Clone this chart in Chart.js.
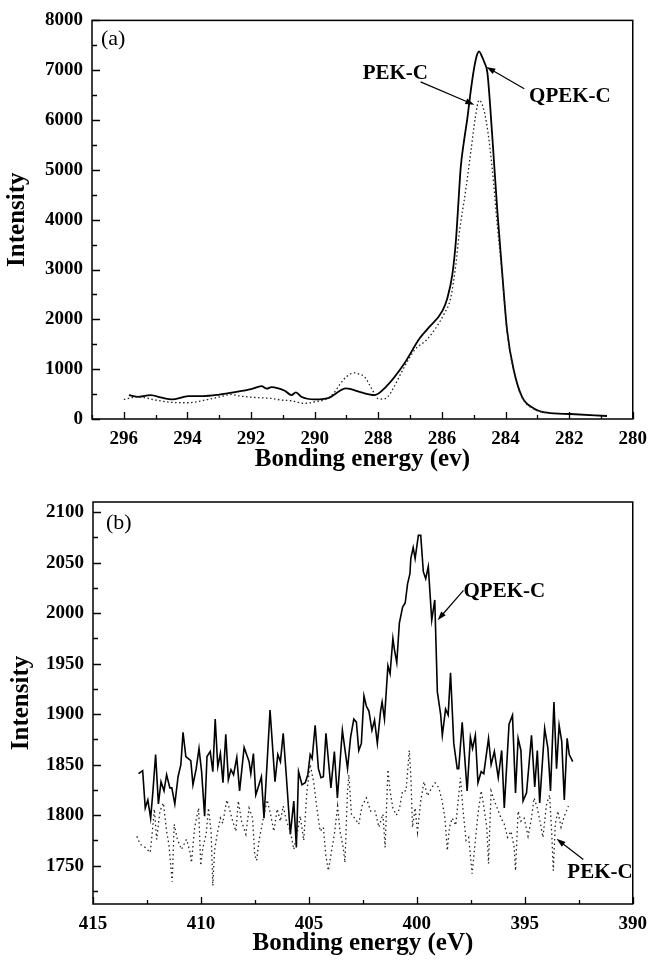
<!DOCTYPE html>
<html>
<head>
<meta charset="utf-8">
<script src="https://cdn.jsdelivr.net/npm/chart.js@4.4.0/dist/chart.umd.min.js"></script>
<style>
  html, body { margin: 0; padding: 0; background: #fff; }
  #wrap { position: relative; width: 656px; height: 962px; }
  canvas { position: absolute; left: 0; }
  #chartA { top: 0; }
  #chartB { top: 480px; }
</style>
</head>
<body>
<div id="wrap">
  <canvas id="chartA" width="656" height="480"></canvas>
  <canvas id="chartB" width="656" height="482"></canvas>
</div>
<script>
// (a) C1s 스펙트럼
const aEnergyQPEK = [295.84, 295.53, 295.16, 294.8, 294.49, 293.97, 293.5, 293.0, 292.5, 292.0, 291.67, 291.5, 291.36, 290.94, 290.73, 290.59, 290.42, 290.0, 289.58, 289.01, 288.54, 288.12, 287.76, 287.18, 286.71, 286.45, 285.98, 285.82, 285.67, 285.56, 285.48, 285.41, 285.3, 285.2, 285.1, 284.99, 284.9, 284.83, 284.75, 284.66, 284.57, 284.42, 284.26, 284.1, 283.95, 283.74, 283.48, 283.11, 282.69, 281.96, 280.81];
const aQPEK = [480, 446, 480, 427, 393, 459, 460, 490, 540, 600, 659, 610, 640, 567, 480, 533, 446, 393, 420, 613, 533, 480, 646, 1115, 1610, 1810, 2176, 2445, 2910, 3573, 4350, 5036, 5600, 6034, 6550, 7032, 7300, 7380, 7290, 7150, 6950, 5709, 4200, 2900, 1776, 978, 445, 213, 126, 100, 60];
const aEnergyPEK = [296.0, 295.53, 295.0, 294.49, 294.0, 293.44, 292.97, 292.61, 292.4, 291.77, 291.36, 291.04, 290.73, 290.31, 290.0, 289.63, 289.4, 289.2, 289.0, 288.75, 288.6, 288.43, 288.2, 288.02, 287.85, 287.7, 287.5, 287.29, 286.87, 286.45, 285.93, 285.72, 285.56, 285.46, 285.25, 285.09, 284.95, 284.83, 284.7, 284.57, 284.42, 284.26, 284.1, 283.95, 283.74, 283.48, 283.11, 282.7];
const aPEK = [393, 446, 380, 333, 326, 380, 446, 493, 466, 427, 413, 380, 366, 313, 346, 400, 520, 700, 850, 925, 900, 846, 600, 413, 400, 446, 650, 912, 1377, 1610, 2110, 2441, 3107, 3700, 4600, 5369, 6050, 6400, 6250, 5834, 5036, 3900, 2850, 1750, 960, 430, 200, 120];
const aXLabels = [280, 282, 284, 286, 288, 290, 292, 294, 296];
const aYLabels = [0, 1000, 2000, 3000, 4000, 5000, 6000, 7000, 8000];

// (b) N1s 스펙트럼
const bEnergyQPEK = [412.89, 412.7, 412.58, 412.46, 412.33, 412.23, 412.1, 411.97, 411.85, 411.71, 411.59, 411.44, 411.35, 411.21, 411.06, 410.93, 410.83, 410.7, 410.47, 410.37, 410.22, 410.09, 409.97, 409.83, 409.72, 409.57, 409.45, 409.34, 409.22, 409.1, 408.98, 408.85, 408.73, 408.61, 408.49, 408.34, 408.21, 408.0, 407.77, 407.69, 407.57, 407.46, 407.34, 407.2, 407.08, 406.8, 406.57, 406.44, 406.32, 406.19, 406.04, 405.86, 405.7, 405.58, 405.48, 405.32, 405.17, 405.05, 404.94, 404.85, 404.71, 404.56, 404.44, 404.33, 404.21, 403.98, 403.82, 403.68, 403.45, 403.21, 403.07, 402.92, 402.8, 402.69, 402.57, 402.45, 402.34, 402.22, 402.08, 401.96, 401.83, 401.68, 401.61, 401.5, 401.34, 401.24, 401.11, 401.04, 400.93, 400.81, 400.66, 400.54, 400.43, 400.32, 400.28, 400.17, 400.08, 399.93, 399.82, 399.7, 399.59, 399.47, 399.31, 399.17, 399.05, 398.9, 398.82, 398.67, 398.55, 398.44, 398.29, 398.13, 398.06, 397.9, 397.67, 397.52, 397.42, 397.29, 397.17, 397.02, 396.9, 396.68, 396.56, 396.41, 396.23, 396.07, 395.95, 395.73, 395.57, 395.43, 395.31, 395.18, 395.08, 394.92, 394.69, 394.54, 394.42, 394.31, 394.08, 393.93, 393.81, 393.65, 393.53, 393.41, 393.29, 393.17, 393.04, 392.94, 392.78];
const bQPEK = [1841, 1844, 1807, 1815, 1797, 1822, 1860, 1811, 1833, 1824, 1840, 1827, 1827, 1811, 1838, 1850, 1882, 1858, 1854, 1830, 1846, 1866, 1843, 1799, 1858, 1863, 1843, 1895, 1848, 1861, 1832, 1880, 1835, 1845, 1840, 1857, 1824, 1867, 1853, 1841, 1861, 1820, 1828, 1838, 1797, 1904, 1833, 1860, 1853, 1881, 1837, 1781, 1814, 1768, 1843, 1830, 1832, 1840, 1860, 1856, 1889, 1846, 1837, 1838, 1881, 1827, 1863, 1817, 1884, 1846, 1877, 1895, 1892, 1864, 1871, 1918, 1908, 1903, 1884, 1894, 1871, 1903, 1912, 1895, 1948, 1940, 1975, 1964, 1951, 1990, 2006, 2010, 2029, 2039, 2054, 2065, 2054, 2077, 2077, 2041, 2034, 2046, 1993, 2013, 1922, 1900, 1879, 1905, 1899, 1941, 1871, 1846, 1846, 1892, 1824, 1877, 1866, 1879, 1832, 1843, 1841, 1876, 1850, 1863, 1837, 1864, 1807, 1890, 1899, 1822, 1876, 1864, 1814, 1822, 1879, 1828, 1864, 1812, 1886, 1866, 1824, 1912, 1846, 1889, 1873, 1815, 1876, 1860, 1853];
const bEnergyPEK = [412.97, 412.81, 412.58, 412.35, 412.25, 412.16, 412.05, 411.9, 411.74, 411.59, 411.48, 411.39, 411.33, 411.24, 411.09, 410.9, 410.67, 410.52, 410.44, 410.29, 410.11, 410.01, 409.91, 409.76, 409.65, 409.53, 409.45, 409.37, 409.25, 409.1, 408.99, 408.8, 408.69, 408.53, 408.38, 408.27, 408.12, 407.92, 407.77, 407.61, 407.51, 407.42, 407.31, 407.11, 406.93, 406.78, 406.62, 406.47, 406.32, 406.19, 406.04, 405.86, 405.7, 405.55, 405.4, 405.24, 405.09, 404.94, 404.78, 404.63, 404.48, 404.33, 404.22, 404.1, 403.94, 403.82, 403.67, 403.56, 403.41, 403.33, 403.22, 403.15, 403.03, 402.88, 402.69, 402.54, 402.34, 402.14, 401.93, 401.76, 401.57, 401.47, 401.34, 401.24, 401.11, 400.95, 400.81, 400.66, 400.5, 400.35, 400.28, 400.2, 400.08, 399.97, 399.82, 399.67, 399.51, 399.31, 399.16, 398.98, 398.83, 398.7, 398.59, 398.49, 398.36, 398.2, 397.98, 397.87, 397.72, 397.6, 397.44, 397.32, 397.17, 397.02, 396.91, 396.76, 396.68, 396.56, 396.41, 396.26, 396.1, 395.95, 395.8, 395.64, 395.49, 395.43, 395.31, 395.18, 395.03, 394.85, 394.69, 394.57, 394.42, 394.27, 394.16, 394.0, 393.85, 393.75, 393.68, 393.59, 393.47, 393.32, 393.17, 392.98];
const bPEK = [1779, 1771, 1768, 1763, 1784, 1806, 1776, 1804, 1812, 1784, 1770, 1748, 1734, 1791, 1776, 1766, 1776, 1765, 1753, 1788, 1807, 1750, 1768, 1781, 1807, 1784, 1730, 1765, 1781, 1797, 1792, 1815, 1807, 1794, 1784, 1814, 1794, 1781, 1807, 1797, 1761, 1755, 1775, 1797, 1815, 1801, 1784, 1806, 1794, 1809, 1794, 1784, 1766, 1781, 1799, 1775, 1824, 1850, 1833, 1807, 1784, 1788, 1761, 1745, 1766, 1781, 1809, 1784, 1768, 1753, 1820, 1840, 1801, 1797, 1791, 1809, 1817, 1804, 1804, 1788, 1801, 1768, 1845, 1824, 1807, 1800, 1806, 1824, 1824, 1864, 1840, 1788, 1807, 1783, 1814, 1833, 1819, 1827, 1832, 1827, 1814, 1797, 1765, 1788, 1797, 1790, 1837, 1807, 1775, 1778, 1742, 1768, 1801, 1824, 1810, 1788, 1752, 1824, 1814, 1806, 1797, 1791, 1778, 1784, 1768, 1745, 1804, 1794, 1797, 1779, 1797, 1817, 1807, 1791, 1778, 1810, 1820, 1781, 1745, 1791, 1804, 1788, 1799, 1809];
const bXLabels = [390, 395, 400, 405, 410, 415];
const bYLabels = [1750, 1800, 1850, 1900, 1950, 2000, 2050, 2100];

const SERIF = "'Liberation Serif', 'Times New Roman', serif";

function pairs(xs, ys) {
  return xs.map((x, i) => ({ x: x, y: ys[i] }));
}

function onStep(v, step) {
  const r = Math.abs(v / step - Math.round(v / step));
  return r < 1e-6;
}

// 프레임 + 안쪽으로 향하는 눈금
const frameTicks = {
  id: 'frameTicks',
  afterDraw(chart, args, opts) {
    const ctx = chart.ctx;
    const a = chart.chartArea;
    const xs = chart.scales.x;
    const ys = chart.scales.y;
    ctx.save();
    ctx.strokeStyle = '#000';
    ctx.lineWidth = 1.5;
    ctx.strokeRect(a.left, a.top, a.right - a.left, a.bottom - a.top);
    ctx.lineWidth = 1.3;
    ctx.beginPath();
    xs.ticks.forEach(t => {
      if (!onStep(t.value, opts.xMinor)) return;
      const px = Math.round(xs.getPixelForValue(t.value)) + 0.5;
      const len = onStep(t.value, opts.xMajor) ? 7 : 4;
      ctx.moveTo(px, a.bottom);
      ctx.lineTo(px, a.bottom - len);
    });
    ys.ticks.forEach(t => {
      if (!onStep(t.value, opts.yMinor)) return;
      const py = Math.round(ys.getPixelForValue(t.value)) + 0.5;
      const len = onStep(t.value, opts.yMajor) ? 8 : 5;
      ctx.moveTo(a.left, py);
      ctx.lineTo(a.left + len, py);
    });
    ctx.stroke();
    ctx.restore();
  }
};

// 라벨과 화살표
const notes = {
  id: 'notes',
  afterDatasetsDraw(chart, args, opts) {
    const ctx = chart.ctx;
    const xs = chart.scales.x;
    const ys = chart.scales.y;
    ctx.save();
    ctx.fillStyle = '#000';
    ctx.strokeStyle = '#000';
    (opts.labels || []).forEach(l => {
      ctx.font = l.font;
      ctx.textAlign = 'left';
      ctx.textBaseline = 'middle';
      ctx.fillText(l.text, xs.getPixelForValue(l.x), ys.getPixelForValue(l.y));
    });
    (opts.arrows || []).forEach(ar => {
      const x1 = xs.getPixelForValue(ar.from[0]);
      const y1 = ys.getPixelForValue(ar.from[1]);
      const x2 = xs.getPixelForValue(ar.to[0]);
      const y2 = ys.getPixelForValue(ar.to[1]);
      const ang = Math.atan2(y2 - y1, x2 - x1);
      const hl = 9, hw = 3;
      ctx.lineWidth = 1.2;
      ctx.beginPath();
      ctx.moveTo(x1, y1);
      ctx.lineTo(x2 - Math.cos(ang) * hl * 0.8, y2 - Math.sin(ang) * hl * 0.8);
      ctx.stroke();
      ctx.beginPath();
      ctx.moveTo(x2, y2);
      ctx.lineTo(x2 - Math.cos(ang) * hl + Math.sin(ang) * hw, y2 - Math.sin(ang) * hl - Math.cos(ang) * hw);
      ctx.lineTo(x2 - Math.cos(ang) * hl - Math.sin(ang) * hw, y2 - Math.sin(ang) * hl + Math.cos(ang) * hw);
      ctx.closePath();
      ctx.fill();
    });
    ctx.restore();
  }
};

function buildOptions(cfg) {
  return {
    responsive: false,
    animation: false,
    layout: { padding: { left: 0, top: cfg.padTop, right: cfg.padRight, bottom: 0 } },
    plugins: {
      legend: { display: false },
      tooltip: { enabled: false },
      frameTicks: cfg.ticks,
      notes: cfg.notes
    },
    scales: {
      x: {
        type: 'linear',
        reverse: true,
        min: cfg.xMin,
        max: cfg.xMax,
        afterFit(scale) { scale.height = cfg.xHeight; },
        grid: { display: false, drawTicks: false },
        border: { display: false },
        ticks: {
          stepSize: cfg.ticks.xMinor,
          includeBounds: false,
          autoSkip: false,
          maxRotation: 0,
          padding: 9,
          color: '#000',
          font: { family: SERIF, size: 19, weight: 'bold' },
          callback: v => cfg.xLabels.includes(v) ? String(v) : ''
        },
        title: {
          display: true,
          text: cfg.xTitle,
          color: '#000',
          padding: { top: 0, bottom: cfg.xTitlePad },
          font: { family: SERIF, size: 25, weight: 'bold' }
        }
      },
      y: {
        type: 'linear',
        min: cfg.yMin,
        max: cfg.yMax,
        afterFit(scale) { scale.width = cfg.yWidth; },
        grid: { display: false, drawTicks: false },
        border: { display: false },
        ticks: {
          stepSize: cfg.ticks.yMinor,
          includeBounds: false,
          autoSkip: false,
          padding: 9,
          color: '#000',
          font: { family: SERIF, size: 19, weight: 'bold' },
          callback: v => cfg.yLabels.includes(v) ? String(v) : ''
        },
        title: {
          display: true,
          text: 'Intensity',
          color: '#000',
          padding: { top: cfg.yTitlePad, bottom: 0 },
          font: { family: SERIF, size: 25, weight: 'bold' }
        }
      }
    }
  };
}

const labelFont = 'bold 21px ' + SERIF;
const tagFont = '22px ' + SERIF;

new Chart(document.getElementById('chartA'), {
  type: 'line',
  data: {
    datasets: [
      {
        label: 'PEK-C',
        data: pairs(aEnergyPEK, aPEK),
        borderColor: '#222',
        borderWidth: 1.3,
        borderDash: [1.5, 2.5],
        pointRadius: 0,
        cubicInterpolationMode: 'monotone'
      },
      {
        label: 'QPEK-C',
        data: pairs(aEnergyQPEK, aQPEK),
        borderColor: '#000',
        borderWidth: 1.8,
        pointRadius: 0,
        cubicInterpolationMode: 'monotone'
      }
    ]
  },
  options: buildOptions({
    padTop: 18, padRight: 20, xHeight: 61, yWidth: 92,
    xMin: 280, xMax: 297, yMin: 0, yMax: 8000,
    xLabels: aXLabels, yLabels: aYLabels,
    xTitle: 'Bonding energy (ev)', xTitlePad: 5, yTitlePad: 3,
    ticks: { xMinor: 1, xMajor: 2, yMinor: 500, yMajor: 1000 },
    notes: {
      labels: [
        { text: '(a)', x: 296.72, y: 7625, font: tagFont },
        { text: 'PEK-C', x: 288.49, y: 6926, font: labelFont },
        { text: 'QPEK-C', x: 283.26, y: 6467, font: labelFont }
      ],
      arrows: [
        { from: [286.67, 6766], to: [284.98, 6307] },
        { from: [283.41, 6627], to: [284.6, 7066] }
      ]
    }
  }),
  plugins: [frameTicks, notes]
});

new Chart(document.getElementById('chartB'), {
  type: 'line',
  data: {
    datasets: [
      {
        label: 'PEK-C',
        data: pairs(bEnergyPEK, bPEK),
        borderColor: '#222',
        borderWidth: 1.3,
        borderDash: [1.5, 3],
        pointRadius: 0,
        tension: 0
      },
      {
        label: 'QPEK-C',
        data: pairs(bEnergyQPEK, bQPEK),
        borderColor: '#000',
        borderWidth: 1.6,
        pointRadius: 0,
        tension: 0
      }
    ]
  },
  options: buildOptions({
    padTop: 22, padRight: 17, xHeight: 58, yWidth: 93,
    xMin: 390, xMax: 415, yMin: 1712, yMax: 2110,
    xLabels: bXLabels, yLabels: bYLabels,
    xTitle: 'Bonding energy (eV)', xTitlePad: 3, yTitlePad: 7,
    ticks: { xMinor: 2.5, xMajor: 5, yMinor: 25, yMajor: 50 },
    notes: {
      labels: [
        { text: '(b)', x: 414.4, y: 2089, font: tagFont },
        { text: 'QPEK-C', x: 397.84, y: 2021.6, font: labelFont },
        { text: 'PEK-C', x: 393.03, y: 1743, font: labelFont }
      ],
      arrows: [
        { from: [397.84, 2022.5], to: [399.04, 1993] },
        { from: [392.29, 1756], to: [393.53, 1776.5] }
      ]
    }
  }),
  plugins: [frameTicks, notes]
});
</script>
</body>
</html>
